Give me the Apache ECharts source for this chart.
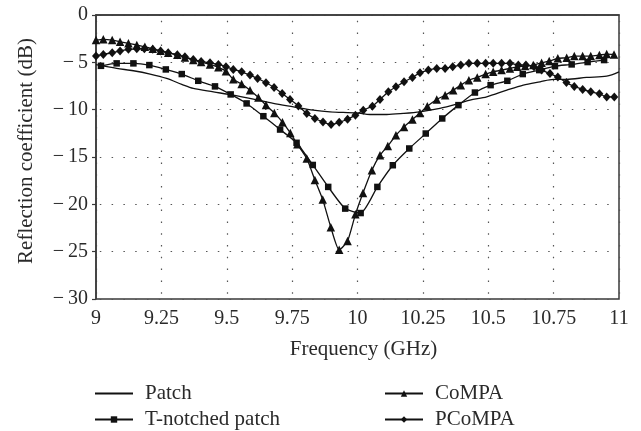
<!DOCTYPE html>
<html>
<head>
<meta charset="utf-8">
<script src="https://cdn.jsdelivr.net/npm/echarts@6/dist/echarts.min.js"></script>
<style>
html,body{margin:0;padding:0;background:#fff;}
#chart{width:641px;height:431px;}
</style>
</head>
<body>
<div id="chart"></div>
<script>
// Frequency (GHz) / reflection coefficient (dB) pairs
const patchFreq = [9.0,9.079,9.143,9.207,9.270,9.328,9.372,9.449,9.525,9.602,9.678,9.755,9.831,9.895,9.997,10.048,10.112,10.175,10.239,10.315,10.379,10.430,10.494,10.571,10.634,10.698,10.749,10.800,10.876,10.953,11.0];
const patchDb = [-5.25,-5.64,-5.89,-6.24,-6.70,-7.33,-7.76,-8.12,-8.47,-8.89,-9.34,-9.70,-10.05,-10.23,-10.34,-10.51,-10.51,-10.40,-10.23,-9.87,-9.42,-9.00,-8.64,-7.94,-7.41,-7.06,-6.80,-6.80,-6.59,-6.46,-6.0];

const tnotchFreq = [9.019,9.079,9.143,9.204,9.267,9.328,9.391,9.455,9.515,9.576,9.640,9.704,9.767,9.829,9.888,9.953,10.012,10.076,10.135,10.198,10.261,10.324,10.386,10.449,10.509,10.573,10.632,10.695,10.755,10.819,10.880,10.943];
const tnotchDb = [-5.37,-5.11,-5.11,-5.29,-5.75,-6.24,-6.95,-7.54,-8.39,-9.34,-10.69,-12.10,-13.50,-15.84,-18.16,-20.45,-20.92,-18.16,-15.87,-14.10,-12.52,-10.93,-9.52,-8.19,-7.41,-6.95,-6.24,-5.82,-5.40,-5.22,-4.97,-4.76];

const compaFreq = [9.0,9.028,9.062,9.092,9.124,9.156,9.187,9.217,9.247,9.276,9.311,9.340,9.372,9.402,9.436,9.468,9.497,9.525,9.557,9.589,9.621,9.650,9.682,9.713,9.743,9.770,9.806,9.837,9.867,9.898,9.930,9.962,9.992,10.021,10.055,10.086,10.116,10.147,10.178,10.210,10.239,10.267,10.303,10.335,10.366,10.395,10.426,10.458,10.490,10.519,10.551,10.583,10.611,10.641,10.672,10.704,10.733,10.766,10.800,10.829,10.861,10.892,10.925,10.953,10.981];
const compaDb = [-2.65,-2.57,-2.65,-2.83,-2.99,-3.17,-3.35,-3.57,-3.78,-3.99,-4.20,-4.48,-4.76,-4.97,-5.22,-5.53,-5.93,-6.80,-7.30,-7.94,-8.71,-9.52,-10.34,-11.32,-12.46,-13.65,-15.16,-17.42,-19.50,-22.43,-24.81,-23.88,-21.06,-18.80,-16.40,-14.81,-13.83,-12.70,-11.82,-11.04,-10.34,-9.63,-8.92,-8.47,-7.94,-7.41,-6.88,-6.59,-6.24,-6.00,-5.82,-5.64,-5.47,-5.40,-5.29,-5.05,-4.87,-4.58,-4.52,-4.34,-4.34,-4.34,-4.23,-4.13,-4.16];

const pcompaFreq = [9.0,9.028,9.062,9.092,9.124,9.156,9.185,9.217,9.247,9.276,9.311,9.340,9.372,9.402,9.436,9.468,9.497,9.525,9.557,9.589,9.618,9.650,9.681,9.712,9.742,9.774,9.806,9.837,9.868,9.899,9.930,9.962,9.992,10.022,10.057,10.086,10.118,10.147,10.178,10.210,10.239,10.271,10.303,10.335,10.364,10.395,10.426,10.458,10.490,10.519,10.551,10.583,10.615,10.644,10.675,10.704,10.736,10.766,10.799,10.829,10.861,10.892,10.925,10.953,10.982];
const pcompaDb = [-4.34,-4.16,-3.99,-3.81,-3.63,-3.57,-3.57,-3.63,-3.81,-3.99,-4.20,-4.41,-4.69,-4.90,-5.05,-5.22,-5.47,-5.75,-6.00,-6.35,-6.70,-7.16,-7.65,-8.29,-8.92,-9.60,-10.40,-10.93,-11.29,-11.57,-11.34,-11.01,-10.58,-10.05,-9.63,-8.92,-8.12,-7.59,-7.06,-6.59,-6.11,-5.82,-5.64,-5.64,-5.47,-5.29,-5.11,-5.11,-5.11,-5.11,-5.11,-5.11,-5.29,-5.29,-5.47,-5.82,-6.19,-6.56,-7.14,-7.54,-7.86,-8.12,-8.33,-8.65,-8.65];

const seriesNames = ['Patch','T-notched patch','CoMPA','PCoMPA'];
const xTicks = {min: 9, max: 11, step: 0.25};
const yTicks = {min: -30, max: 0, step: 5};

function zip(a, b){ return a.map((v, i) => [v, b[i]]); }

const FONT = 'Liberation Serif';
const TXT = '#2a2a2a';
const INK = '#111';

const chart = echarts.init(document.getElementById('chart'), null, {renderer: 'canvas'});

const baseSeries = {
  type: 'line',
  lineStyle: {color: INK, width: 1.3},
  itemStyle: {color: INK},
  emphasis: {disabled: true},
  animation: false
};

function legendItem(name, left, top, hideSymbol){
  const l = {
    data: [name], orient: 'horizontal', left: left, top: top,
    itemWidth: 38, itemHeight: 8, padding: 0,
    selectedMode: false,
    textStyle: {fontFamily: FONT, fontSize: 21, color: TXT, padding: [0,0,0,7]}
  };
  if (hideSymbol) l.itemStyle = {opacity: 0};
  return l;
}

chart.setOption({
  animation: false,
  backgroundColor: '#fff',
  grid: {left: 96, right: 22, top: 15, bottom: 132, show: true, borderColor: '#3a3a3a', borderWidth: 1.5, backgroundColor: 'transparent'},
  xAxis: {
    type: 'value', min: xTicks.min, max: xTicks.max, interval: xTicks.step,
    name: 'Frequency (GHz)', nameLocation: 'middle', nameGap: 40,
    nameTextStyle: {fontFamily: FONT, fontSize: 21, color: TXT, padding: [0,0,0,12]},
    axisLine: {show: true, lineStyle: {color: '#3a3a3a', width: 1.5}},
    axisTick: {show: false},
    axisLabel: {fontFamily: FONT, fontSize: 20, color: TXT, margin: 10},
    splitLine: {show: true, lineStyle: {type: [1.5, 10.3], dashOffset: 6, color: '#555', width: 1.2}}
  },
  yAxis: {
    type: 'value', min: yTicks.min, max: yTicks.max, interval: yTicks.step,
    name: 'Reflection coefficient (dB)', nameLocation: 'middle', nameGap: 59,
    nameTextStyle: {fontFamily: FONT, fontSize: 21, color: TXT, padding: [0,0,0,12]},
    axisLine: {show: true, lineStyle: {color: '#3a3a3a', width: 1.5}},
    axisTick: {show: true, length: 4, lineStyle: {color: '#3a3a3a', width: 1.2}},
    axisLabel: {fontFamily: FONT, fontSize: 20, color: TXT, margin: 8,
      formatter: v => v < 0 ? '\u2212\u2009' + Math.abs(v) : String(v)},
    splitLine: {show: true, lineStyle: {type: [1.5, 10.3], dashOffset: 8, color: '#555', width: 1.2}}
  },
  legend: [
    legendItem(seriesNames[0], 94, 383, true),
    legendItem(seriesNames[1], 94, 409),
    legendItem(seriesNames[2], 384, 383),
    legendItem(seriesNames[3], 384, 409)
  ],
  series: [
    Object.assign({}, baseSeries, {name: seriesNames[0], data: zip(patchFreq, patchDb), symbol: 'none', smooth: 0.3}),
    Object.assign({}, baseSeries, {name: seriesNames[1], data: zip(tnotchFreq, tnotchDb), symbol: 'rect', symbolSize: 6.5, smooth: 0.2}),
    Object.assign({}, baseSeries, {name: seriesNames[2], data: zip(compaFreq, compaDb), symbol: 'triangle', symbolSize: 8.5, smooth: 0.2}),
    Object.assign({}, baseSeries, {name: seriesNames[3], data: zip(pcompaFreq, pcompaDb), symbol: 'diamond', symbolSize: [8, 9], smooth: 0.2})
  ]
});
</script>
</body>
</html>
